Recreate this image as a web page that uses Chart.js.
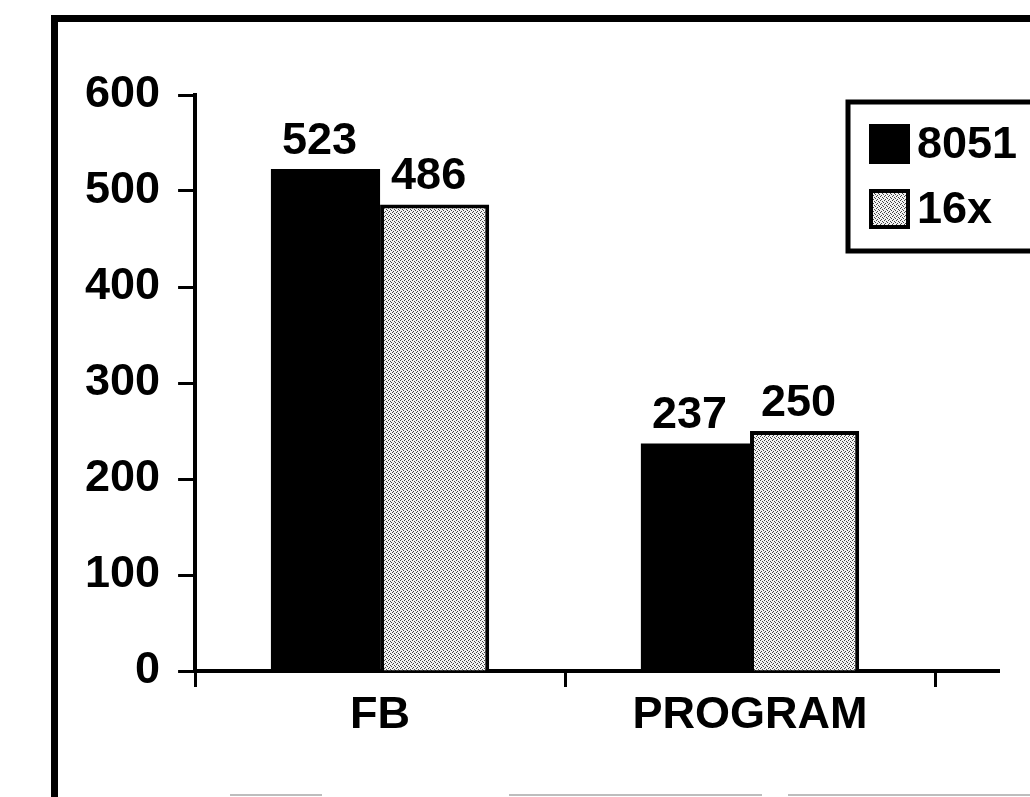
<!DOCTYPE html>
<html>
<head>
<meta charset="utf-8">
<script src="https://cdn.jsdelivr.net/npm/chart.js@4/dist/chart.umd.min.js"></script>
<style>
  html, body { margin: 0; padding: 0; background: #fff; }
  #wrap { position: relative; width: 1030px; height: 797px; overflow: hidden; }
  #frame {
    position: absolute; left: 51px; top: 15px; width: 1100px; height: 900px;
    border-left: 7px solid #000; border-top: 7px solid #000;
  }
  .edge { position: absolute; top: 794px; height: 2px; background: #bdbdbd; }
  #chart { position: absolute; left: 0; top: 0; }
</style>
</head>
<body>
<div id="wrap">
  <div id="frame"></div>
  <div class="edge" style="left:230px;width:92px"></div>
  <div class="edge" style="left:509px;width:253px"></div>
  <div class="edge" style="left:788px;width:250px"></div>
  <canvas id="chart" width="1030" height="797"></canvas>
</div>
<script>
const categories = ['FB', 'PROGRAM'];
const seriesNames = ['8051', '16x'];
const values8051 = [523, 237];
const values16x = [486, 250];
const yMax = 600;
const yStep = 100;

const FONT = '"Liberation Sans", Arial, sans-serif';

// dotted grey fill for the second series
function stipple() {
  const c = document.createElement('canvas');
  c.width = 4;
  c.height = 4;
  const g = c.getContext('2d');
  g.fillStyle = '#f2f2f2';
  g.fillRect(0, 0, 4, 4);
  g.fillStyle = '#444';
  [[0, 0], [2, 1], [1, 3], [3, 2]].forEach(function (p) {
    g.fillRect(p[0], p[1], 1, 1);
  });
  return g.createPattern(c, 'repeat');
}
const dots = stipple();

// numbers above each bar
const valueLabels = {
  id: 'valueLabels',
  afterDatasetsDraw(chart) {
    const ctx = chart.ctx;
    ctx.save();
    ctx.font = 'bold 45px ' + FONT;
    ctx.fillStyle = '#000';
    ctx.textAlign = 'center';
    ctx.textBaseline = 'alphabetic';
    chart.data.datasets.forEach(function (ds, i) {
      chart.getDatasetMeta(i).data.forEach(function (bar, j) {
        ctx.fillText(ds.data[j], bar.x - 6, bar.y - 15);
      });
    });
    ctx.restore();
  },
};

// boxed legend in the upper right, plus the run-out of the x axis line
const boxLegend = {
  id: 'boxLegend',
  afterDraw(chart) {
    const ctx = chart.ctx;
    const area = chart.chartArea;
    const x0 = area.right - 87;
    const y0 = area.top + 7;

    ctx.save();
    ctx.strokeStyle = '#000';
    ctx.lineWidth = 4;
    ctx.beginPath();
    ctx.moveTo(area.right, area.bottom);
    ctx.lineTo(area.right + 65, area.bottom);
    ctx.stroke();

    ctx.lineWidth = 5;
    ctx.strokeRect(x0, y0, 220, 149);

    ctx.font = 'bold 45px ' + FONT;
    ctx.textBaseline = 'middle';
    ctx.textAlign = 'left';
    chart.data.datasets.forEach(function (ds, i) {
      const cy = y0 + 42 + i * 65;
      const bx = x0 + 21;
      ctx.fillStyle = ds.backgroundColor;
      ctx.fillRect(bx, cy - 20, 41, 40);
      if (ds.borderWidth) {
        ctx.lineWidth = 4;
        ctx.strokeStyle = ds.borderColor;
        ctx.strokeRect(bx + 2, cy - 18, 37, 36);
      }
      ctx.fillStyle = '#000';
      ctx.fillText(ds.label, bx + 48, cy + 2);
    });
    ctx.restore();
  },
};

new Chart(document.getElementById('chart').getContext('2d'), {
  type: 'bar',
  data: {
    labels: categories,
    datasets: [
      {
        label: seriesNames[0],
        data: values8051,
        backgroundColor: '#000',
        borderWidth: 0,
        categoryPercentage: 0.59,
        barPercentage: 1.0,
      },
      {
        label: seriesNames[1],
        data: values16x,
        backgroundColor: dots,
        borderColor: '#000',
        borderWidth: 4,
        categoryPercentage: 0.59,
        barPercentage: 1.0,
      },
    ],
  },
  options: {
    responsive: false,
    animation: false,
    events: [],
    layout: {
      padding: { left: 67, top: 95, right: 95, bottom: 52 },
    },
    plugins: {
      legend: { display: false },
      tooltip: { enabled: false },
    },
    scales: {
      x: {
        grid: {
          drawOnChartArea: false,
          drawTicks: true,
          tickLength: 16,
          tickWidth: 3,
          tickColor: '#000',
        },
        border: { color: '#000', width: 4 },
        ticks: {
          color: '#000',
          padding: 2,
          font: { family: FONT, size: 45, weight: 'bold' },
        },
      },
      y: {
        min: 0,
        max: yMax,
        grid: {
          drawOnChartArea: false,
          drawTicks: true,
          tickLength: 17,
          tickWidth: 3,
          tickColor: '#000',
        },
        border: { color: '#000', width: 4 },
        ticks: {
          stepSize: yStep,
          color: '#000',
          padding: 18,
          font: { family: FONT, size: 45, weight: 'bold' },
        },
      },
    },
  },
  plugins: [valueLabels, boxLegend],
});
</script>
</body>
</html>
